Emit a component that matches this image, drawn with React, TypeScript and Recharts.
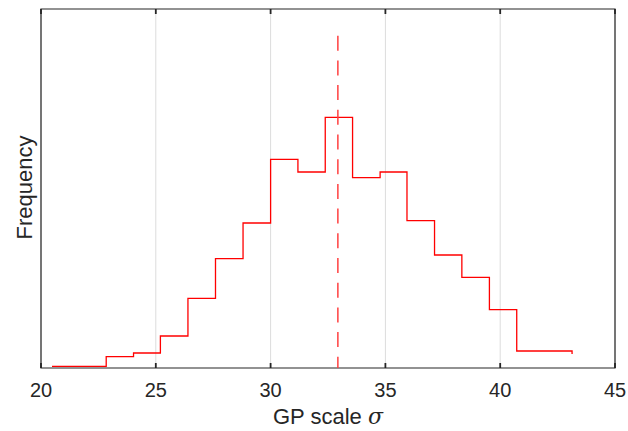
import React from 'react';
import { ComposedChart, Line, XAxis, YAxis, CartesianGrid, ReferenceLine, ReferenceArea } from 'recharts';

const binEdges = [20.48, 21.67, 22.84, 24.03, 25.2, 26.4, 27.6, 28.8, 30.0, 31.19, 32.38, 33.57, 34.77, 35.94, 37.14, 38.33, 39.53, 40.72, 41.92, 43.13];
const frequency = [1.6, 1.6, 11.3, 15, 32, 69.6, 109.3, 145, 208.6, 196, 250.6, 190.3, 196, 147.3, 113, 90.6, 58.3, 17, 17];
const endValue = 14;
const xTicks = [20, 25, 30, 35, 40, 45];
const meanSigma = 32.93;
const meanLineTop = 332.3;
const yMax = 359;
const tickLen = 5;

const data: { x: number; y: number }[] = [];
frequency.forEach((v, i) => data.push({ x: binEdges[i], y: v }));
data.push({ x: binEdges[binEdges.length - 1], y: frequency[frequency.length - 1] });
data.push({ x: binEdges[binEdges.length - 1], y: endValue });

const FONT = '"Liberation Sans", Arial, Helvetica, sans-serif';
const TXT = '#262626';

const BottomTick = (props: any) => {
  const { x, y, payload } = props;
  return (
    <text x={x} y={y + 28.5} textAnchor="middle" fontFamily={FONT} fontSize={20} fill={TXT}>
      {payload.value}
    </text>
  );
};

const XLabel = (props: any) => {
  const vb = props.viewBox || {};
  return (
    <text x={vb.x + vb.width / 2} y={vb.y + 56} textAnchor="middle" fontFamily={FONT} fontSize={22} fill={TXT}>
      GP scale <tspan fontStyle="italic" fontFamily='"DejaVu Serif", "Liberation Serif", serif'>σ</tspan>
    </text>
  );
};

const YLabel = (props: any) => {
  const vb = props.viewBox || {};
  const cx = vb.x + vb.width - 9;
  const cy = vb.y + vb.height / 2 - 1;
  return (
    <text x={cx} y={cy} transform={`rotate(-90, ${cx}, ${cy})`} textAnchor="middle" fontFamily={FONT} fontSize={22} fill={TXT}>
      Frequency
    </text>
  );
};

export default function App() {
  return (
    <div style={{ position: 'absolute', left: 0, top: 0, width: 628, height: 431, background: '#fff' }}>
      <ComposedChart width={628} height={431} data={data} margin={{ top: 9, right: 13, left: 0, bottom: 0 }}>
        <CartesianGrid vertical={true} horizontal={false} stroke="#dcdcdc" strokeWidth={1} />
        <XAxis
          type="number"
          dataKey="x"
          domain={[20, 45]}
          ticks={xTicks}
          allowDataOverflow
          height={63}
          axisLine={false}
          tickLine={false}
          tickSize={0}
          tickMargin={0}
          tick={<BottomTick />}
          interval={0}
          label={<XLabel />}
        />
        <YAxis
          type="number"
          domain={[0, yMax]}
          allowDataOverflow
          width={41}
          axisLine={false}
          tickLine={false}
          tick={false}
          label={<YLabel />}
        />
        <Line
          type="stepAfter"
          dataKey="y"
          stroke="#ff0000"
          strokeWidth={1.3}
          dot={false}
          activeDot={false}
          isAnimationActive={false}
        />
        <ReferenceLine
          segment={[{ x: meanSigma, y: meanLineTop }, { x: meanSigma, y: 0 }]}
          stroke="#ff4040"
          strokeWidth={1.5}
          strokeDasharray="15 9.7"
        />
        {xTicks.map((t) => (
          <ReferenceLine
            key={`b${t}`}
            segment={[{ x: t, y: 0 }, { x: t, y: tickLen }]}
            stroke={TXT}
            strokeWidth={1.8}
          />
        ))}
        {xTicks.map((t) => (
          <ReferenceLine
            key={`t${t}`}
            segment={[{ x: t, y: yMax }, { x: t, y: yMax - tickLen }]}
            stroke={TXT}
            strokeWidth={1.8}
          />
        ))}
        <ReferenceArea
          x1={20}
          x2={45}
          y1={0}
          y2={yMax}
          fill="none"
          stroke={TXT}
          strokeWidth={1.2}
          ifOverflow="visible"
        />
      </ComposedChart>
    </div>
  );
}
